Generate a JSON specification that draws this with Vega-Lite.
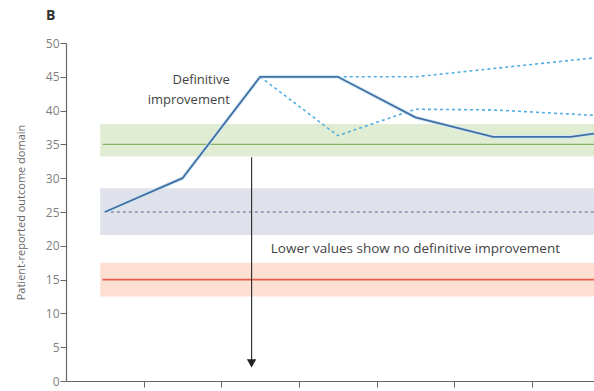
{
  "$schema": "https://vega.github.io/schema/vega-lite/v6.json",
  "width": 528,
  "height": 338,
  "autosize": "none",
  "padding": {"left": 66, "top": 43, "right": 0, "bottom": 10},
  "background": "white",
  "title": {"text": "B", "anchor": "start", "frame": "group", "dx": -20, "offset": 14, "fontSize": 14, "fontWeight": "bold", "font": "Open Sans", "color": "#333"},
  "config": {"view": {"stroke": null}, "font": "Open Sans", "axisY": {"tickCount": 10, "labelOverlap": false}},
  "datasets": {
    "bands": [
      {"band": "green", "lo": 33.2, "hi": 38, "x0": 0.44, "x1": 6.8},
      {"band": "gray", "lo": 21.6, "hi": 28.5, "x0": 0.44, "x1": 6.8},
      {"band": "red", "lo": 12.5, "hi": 17.5, "x0": 0.44, "x1": 6.8}
    ],
    "series": [
      {"s": "observed", "x": 0.5, "y": 25},
      {"s": "observed", "x": 1.5, "y": 30},
      {"s": "observed", "x": 2.5, "y": 45},
      {"s": "observed", "x": 3.5, "y": 45},
      {"s": "observed", "x": 4.5, "y": 39},
      {"s": "observed", "x": 5.5, "y": 36.1},
      {"s": "observed", "x": 6.5, "y": 36.1},
      {"s": "observed", "x": 6.8, "y": 36.6},
      {"s": "upper", "x": 3.5, "y": 45},
      {"s": "upper", "x": 4.5, "y": 45},
      {"s": "upper", "x": 6.8, "y": 47.8},
      {"s": "lower", "x": 2.5, "y": 45},
      {"s": "lower", "x": 3.5, "y": 36.3},
      {"s": "lower", "x": 4.5, "y": 40.2},
      {"s": "lower", "x": 5.5, "y": 40.1},
      {"s": "lower", "x": 6.8, "y": 39.3}
    ]
  },
  "layer": [
    {
      "data": {"name": "bands"},
      "mark": {"type": "rect", "opacity": 1},
      "encoding": {
        "x": {"field": "x0", "type": "quantitative", "scale": {"domain": [0, 6.8], "nice": false, "zero": false},
          "axis": {"values": [1, 2, 3, 4, 5, 6], "labels": false, "title": null, "grid": false, "domainColor": "#666", "tickColor": "#666", "tickSize": 6, "domainWidth": 1.2}},
        "x2": {"field": "x1"},
        "y": {"field": "lo", "type": "quantitative", "scale": {"domain": [0, 50], "nice": false},
          "axis": {"tickCount": 10, "labelOverlap": false, "title": "Patient-reported outcome domain", "titleFontSize": 11, "titleFontWeight": "normal", "titleColor": "#666", "titlePadding": 19, "grid": false, "domainColor": "#666", "tickColor": "#666", "tickSize": 6, "labelColor": "#808080", "labelFontSize": 12, "labelPadding": 1, "domainWidth": 1.2}},
        "y2": {"field": "hi"},
        "color": {"field": "band", "type": "nominal", "legend": null,
          "scale": {"domain": ["green", "gray", "red"], "range": ["#e1edd2", "#dfe2ea", "#fde0d2"]}}
      }
    },
    {
      "data": {"values": [{"x0": 0.47, "x1": 6.8, "y": 35}]},
      "mark": {"type": "rule", "color": "#86b46a", "strokeWidth": 1.2},
      "encoding": {"x": {"field": "x0", "type": "quantitative"}, "x2": {"field": "x1"}, "y": {"field": "y", "type": "quantitative"}}
    },
    {
      "data": {"values": [{"x0": 0.47, "x1": 6.8, "y": 15}]},
      "mark": {"type": "rule", "color": "#ea5a48", "strokeWidth": 1.6},
      "encoding": {"x": {"field": "x0", "type": "quantitative"}, "x2": {"field": "x1"}, "y": {"field": "y", "type": "quantitative"}}
    },
    {
      "data": {"values": [{"x0": 0.5, "x1": 6.8, "y": 25}]},
      "mark": {"type": "rule", "color": "#5a6a8a", "strokeWidth": 1.2, "strokeDash": [3, 3]},
      "encoding": {"x": {"field": "x0", "type": "quantitative"}, "x2": {"field": "x1"}, "y": {"field": "y", "type": "quantitative"}}
    },
    {
      "data": {"name": "series"},
      "transform": [{"filter": "datum.s !== 'observed'"}],
      "mark": {"type": "line", "strokeWidth": 1.6, "strokeDash": [3, 3]},
      "encoding": {
        "x": {"field": "x", "type": "quantitative"},
        "y": {"field": "y", "type": "quantitative"},
        "detail": {"field": "s"},
        "color": {"value": "#52aee0"}
      }
    },
    {
      "data": {"name": "series"},
      "transform": [{"filter": "datum.s === 'observed'"}],
      "mark": {"type": "line", "strokeWidth": 4, "color": "#cfe6f5", "opacity": 0.8},
      "encoding": {"x": {"field": "x", "type": "quantitative"}, "y": {"field": "y", "type": "quantitative"}}
    },
    {
      "data": {"name": "series"},
      "transform": [{"filter": "datum.s === 'observed'"}],
      "mark": {"type": "line", "strokeWidth": 1.8, "color": "#3f6fa3"},
      "encoding": {"x": {"field": "x", "type": "quantitative"}, "y": {"field": "y", "type": "quantitative"}}
    },
    {
      "data": {"values": [{"x": 2.39, "y0": 33.1, "y1": 2.5}]},
      "mark": {"type": "rule", "color": "#333", "strokeWidth": 1.2},
      "encoding": {"x": {"field": "x", "type": "quantitative"}, "y": {"field": "y0", "type": "quantitative"}, "y2": {"field": "y1"}}
    },
    {
      "data": {"values": [{"x": 2.39, "y": 2.6}]},
      "mark": {"type": "point", "shape": "triangle-down", "filled": true, "color": "#222", "size": 90, "opacity": 1},
      "encoding": {"x": {"field": "x", "type": "quantitative"}, "y": {"field": "y", "type": "quantitative"}}
    },
    {
      "data": {"values": [{"x": 2.11, "y": 44.5, "t": "Definitive"}, {"x": 2.11, "y": 41.6, "t": "improvement"}]},
      "mark": {"type": "text", "align": "right", "baseline": "middle", "fontSize": 13, "color": "#444", "font": "Open Sans"},
      "encoding": {"x": {"field": "x", "type": "quantitative"}, "y": {"field": "y", "type": "quantitative"}, "text": {"field": "t"}}
    },
    {
      "data": {"values": [{"x": 4.5, "y": 19.6, "t": "Lower values show no definitive improvement"}]},
      "mark": {"type": "text", "align": "center", "baseline": "middle", "fontSize": 13.5, "color": "#444", "font": "Open Sans"},
      "encoding": {"x": {"field": "x", "type": "quantitative"}, "y": {"field": "y", "type": "quantitative"}, "text": {"field": "t"}}
    }
  ]
}
